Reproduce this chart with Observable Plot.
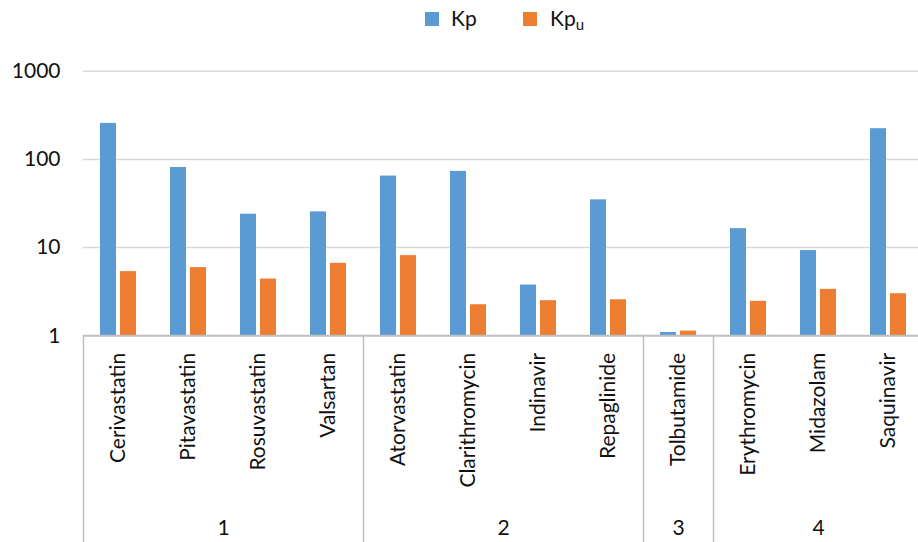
<!DOCTYPE html>
<html>
<head>
<meta charset="utf-8">
<script src="https://cdn.jsdelivr.net/npm/d3@7"></script>
<script src="https://cdn.jsdelivr.net/npm/@observablehq/plot@0.6"></script>
<style>
  html, body { margin: 0; padding: 0; background: #fff; overflow: hidden; }
  #wrap { width: 918px; font-family: Lato, "Open Sans", sans-serif; color: #111; }
  #legend { position: relative; height: 40px; font-size: 21px; }
  #legend .sw { position: absolute; top: 12px; width: 14px; height: 14px; }
  #legend .lab { position: absolute; top: 7px; line-height: 21px; white-space: nowrap; }
  #legend sub { font-size: 15px; vertical-align: -4px; line-height: 0; }
</style>
</head>
<body>
<div id="wrap">
  <div id="legend">
    <span class="sw" style="left:425px;background:#5b9bd5"></span>
    <span class="lab" style="left:451px">Kp</span>
    <span class="sw" style="left:523px;background:#ed7d31"></span>
    <span class="lab" style="left:550px">Kp<sub>u</sub></span>
  </div>
  <div id="chart"></div>
</div>
<script>
// Drugs, their class (1–4), and the two partition coefficients
const drugs = ["Cerivastatin", "Pitavastatin", "Rosuvastatin", "Valsartan",
               "Atorvastatin", "Clarithromycin", "Indinavir", "Repaglinide",
               "Tolbutamide", "Erythromycin", "Midazolam", "Saquinavir"];
const groups = ["1", "1", "1", "1", "2", "2", "2", "2", "3", "4", "4", "4"];
const kp  = [256, 81, 23.9, 25.4, 64.7, 73.1, 3.76, 34.8, 1.09, 16.4, 9.25, 223];
const kpu = [5.34, 5.93, 4.40, 6.64, 8.11, 2.25, 2.50, 2.56, 1.13, 2.46, 3.36, 3.0];
const yTicks = [1, 10, 100, 1000];

const blue = "#5b9bd5", orange = "#ed7d31";

// One row per drug; i is the drug's slot on the category axis
const rows = drugs.map((drug, i) => ({drug, i, group: groups[i], kp: kp[i], kpu: kpu[i]}));

// Contiguous runs of the same class → spans for the second axis level
const spans = [];
groups.forEach((g, i) => {
  const last = spans[spans.length - 1];
  if (last && last.label === g) last.end = i + 1;
  else spans.push({label: g, start: i, end: i + 1});
});
const boundaries = [...spans.map(s => s.start), drugs.length];

// The y range is fixed explicitly; the frame (top margin → bottom edge) is the
// category-label band under the bars, so the class dividers fill exactly that band.
const chart = Plot.plot({
  width: 918,
  height: 502,
  marginLeft: 83,
  marginRight: 0,
  marginTop: 295.3,
  marginBottom: 0,
  x: {domain: [0, drugs.length], range: [83, 923], axis: null},
  y: {type: "log", domain: [1, 1000], range: [295.3, 30.7], axis: null},
  style: {fontFamily: "Lato, 'Open Sans', sans-serif", fontSize: "21px", color: "#111", background: "#fff", overflow: "visible"},
  marks: [
    Plot.ruleY(yTicks.slice(1), {y: d => d, stroke: "#d9d9d9", strokeWidth: 1.5}),
    Plot.rect(rows, {x1: "i", x2: d => d.i + 1, y1: 1, y2: "kp", fill: blue, insetLeft: 17, insetRight: 37}),
    Plot.rect(rows, {x1: "i", x2: d => d.i + 1, y1: 1, y2: "kpu", fill: orange, insetLeft: 37, insetRight: 17}),
    Plot.ruleY([1], {y: d => d, stroke: "#bfbfbf", strokeWidth: 2}),
    Plot.ruleX(boundaries, {x: d => d, stroke: "#bfbfbf", strokeWidth: 1.5}),
    Plot.text(yTicks, {y: d => d, frameAnchor: "left", textAnchor: "end", dx: -23, text: d => String(d), fill: "#111"}),
    Plot.text(rows, {x: d => d.i + 0.5, y: 1, text: "drug", rotate: -90, textAnchor: "end", dy: 17, fill: "#111"}),
    Plot.text(spans, {x: d => (d.start + d.end) / 2, frameAnchor: "bottom", lineAnchor: "middle", dy: -14.5, text: "label", fill: "#111"})
  ]
});
document.getElementById("chart").appendChild(chart);
</script>
</body>
</html>
